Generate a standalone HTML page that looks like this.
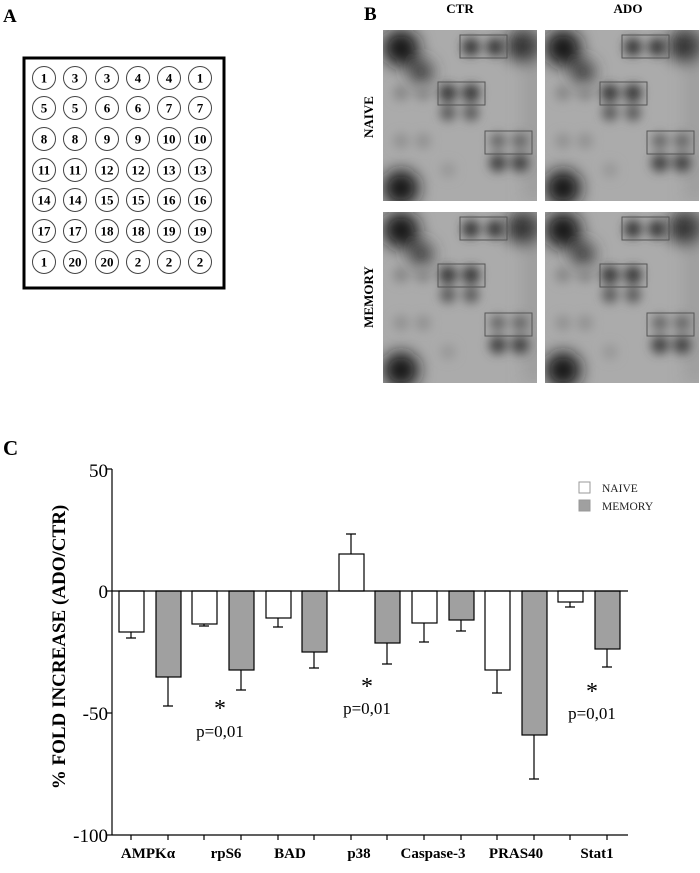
<!DOCTYPE html>
<html><head><meta charset="utf-8"><style>
html,body{margin:0;padding:0;background:#fff;}
svg{display:block;font-family:"Liberation Serif",serif;}
</style></head><body>
<svg width="700" height="873" viewBox="0 0 700 873" xmlns="http://www.w3.org/2000/svg">
<defs>
<filter id="bl" x="-30%" y="-30%" width="160%" height="160%"><feGaussianBlur stdDeviation="8"/></filter>
<filter id="bl2" x="-30%" y="-30%" width="160%" height="160%"><feGaussianBlur stdDeviation="5"/></filter>
<clipPath id="cp"><rect x="0" y="0" width="154" height="171"/></clipPath>
<g id="blotA">
<rect x="0" y="0" width="154" height="171" fill="#ababab"/>
<g clip-path="url(#cp)">
<g filter="url(#bl)" fill="#151515">
<circle cx="18" cy="18" r="18"/><circle cx="38" cy="42" r="12" fill="#3a3a3a"/>
<circle cx="18" cy="158" r="18"/><circle cx="142" cy="16" r="17"/>
<rect x="140" y="0" width="20" height="171" fill="#888" opacity="0.4"/>
</g>
<g filter="url(#bl2)" fill="#3a3a3a">
<circle cx="88" cy="17" r="9"/><circle cx="112" cy="17" r="9"/>
<circle cx="65" cy="63" r="9"/><circle cx="88" cy="63" r="9"/>
<circle cx="65" cy="83" r="8" fill="#5a5a5a"/><circle cx="88" cy="83" r="8" fill="#5a5a5a"/>
<circle cx="115" cy="111" r="8" fill="#666"/><circle cx="137" cy="111" r="8" fill="#666"/>
<circle cx="115" cy="133" r="9" fill="#444"/><circle cx="137" cy="133" r="9" fill="#444"/>
<circle cx="18" cy="63" r="8" fill="#888"/><circle cx="40" cy="63" r="8" fill="#888"/>
<circle cx="18" cy="111" r="8" fill="#929292"/><circle cx="40" cy="111" r="8" fill="#929292"/>
<circle cx="65" cy="140" r="8" fill="#999"/>
</g>
</g>
<g fill="none" stroke="#555" stroke-width="1">
<rect x="77" y="5" width="47" height="23"/>
<rect x="55" y="52" width="47" height="23"/>
<rect x="102" y="101" width="47" height="23"/>
</g>
</g>
</defs>

<!-- Panel A -->
<text x="3" y="22" font-size="19" font-weight="bold">A</text>
<rect x="24" y="58" width="200" height="230" fill="none" stroke="#000" stroke-width="3"/>
<g fill="none" stroke="#444" stroke-width="1">
<circle cx="44" cy="78" r="11.5"/><circle cx="75" cy="78" r="11.5"/><circle cx="107" cy="78" r="11.5"/><circle cx="138" cy="78" r="11.5"/><circle cx="169" cy="78" r="11.5"/><circle cx="200" cy="78" r="11.5"/>
<circle cx="44" cy="108" r="11.5"/><circle cx="75" cy="108" r="11.5"/><circle cx="107" cy="108" r="11.5"/><circle cx="138" cy="108" r="11.5"/><circle cx="169" cy="108" r="11.5"/><circle cx="200" cy="108" r="11.5"/>
<circle cx="44" cy="139" r="11.5"/><circle cx="75" cy="139" r="11.5"/><circle cx="107" cy="139" r="11.5"/><circle cx="138" cy="139" r="11.5"/><circle cx="169" cy="139" r="11.5"/><circle cx="200" cy="139" r="11.5"/>
<circle cx="44" cy="170" r="11.5"/><circle cx="75" cy="170" r="11.5"/><circle cx="107" cy="170" r="11.5"/><circle cx="138" cy="170" r="11.5"/><circle cx="169" cy="170" r="11.5"/><circle cx="200" cy="170" r="11.5"/>
<circle cx="44" cy="200" r="11.5"/><circle cx="75" cy="200" r="11.5"/><circle cx="107" cy="200" r="11.5"/><circle cx="138" cy="200" r="11.5"/><circle cx="169" cy="200" r="11.5"/><circle cx="200" cy="200" r="11.5"/>
<circle cx="44" cy="231" r="11.5"/><circle cx="75" cy="231" r="11.5"/><circle cx="107" cy="231" r="11.5"/><circle cx="138" cy="231" r="11.5"/><circle cx="169" cy="231" r="11.5"/><circle cx="200" cy="231" r="11.5"/>
<circle cx="44" cy="262" r="11.5"/><circle cx="75" cy="262" r="11.5"/><circle cx="107" cy="262" r="11.5"/><circle cx="138" cy="262" r="11.5"/><circle cx="169" cy="262" r="11.5"/><circle cx="200" cy="262" r="11.5"/>
</g>
<g font-size="13" font-weight="bold" text-anchor="middle">
<text x="44" y="82.5">1</text><text x="75" y="82.5">3</text><text x="107" y="82.5">3</text><text x="138" y="82.5">4</text><text x="169" y="82.5">4</text><text x="200" y="82.5">1</text>
<text x="44" y="112.5">5</text><text x="75" y="112.5">5</text><text x="107" y="112.5">6</text><text x="138" y="112.5">6</text><text x="169" y="112.5">7</text><text x="200" y="112.5">7</text>
<text x="44" y="143.5">8</text><text x="75" y="143.5">8</text><text x="107" y="143.5">9</text><text x="138" y="143.5">9</text><text x="169" y="143.5">10</text><text x="200" y="143.5">10</text>
<text x="44" y="174.5">11</text><text x="75" y="174.5">11</text><text x="107" y="174.5">12</text><text x="138" y="174.5">12</text><text x="169" y="174.5">13</text><text x="200" y="174.5">13</text>
<text x="44" y="204.5">14</text><text x="75" y="204.5">14</text><text x="107" y="204.5">15</text><text x="138" y="204.5">15</text><text x="169" y="204.5">16</text><text x="200" y="204.5">16</text>
<text x="44" y="235.5">17</text><text x="75" y="235.5">17</text><text x="107" y="235.5">18</text><text x="138" y="235.5">18</text><text x="169" y="235.5">19</text><text x="200" y="235.5">19</text>
<text x="44" y="266.5">1</text><text x="75" y="266.5">20</text><text x="107" y="266.5">20</text><text x="138" y="266.5">2</text><text x="169" y="266.5">2</text><text x="200" y="266.5">2</text>
</g>

<!-- Panel B -->
<text x="364" y="20" font-size="19" font-weight="bold">B</text>
<text x="460" y="13" font-size="13" font-weight="bold" text-anchor="middle">CTR</text>
<text x="628" y="13" font-size="13" font-weight="bold" text-anchor="middle">ADO</text>
<text transform="translate(373,117) rotate(-90)" font-size="13" font-weight="bold" text-anchor="middle">NAIVE</text>
<text transform="translate(373,297) rotate(-90)" font-size="13" font-weight="bold" text-anchor="middle">MEMORY</text>
<use href="#blotA" x="383" y="30"/>
<use href="#blotA" x="545" y="30"/>
<use href="#blotA" x="383" y="212"/>
<use href="#blotA" x="545" y="212"/>

<!-- Panel C -->
<text x="3" y="455" font-size="21" font-weight="bold">C</text>
<text transform="translate(65,647) rotate(-90)" font-size="19" font-weight="bold" text-anchor="middle">% FOLD INCREASE (ADO/CTR)</text>
<g font-size="19" text-anchor="end">
<text x="108" y="477">50</text><text x="108" y="598">0</text><text x="108" y="720">-50</text><text x="108" y="842">-100</text>
</g>
<g stroke="#000" stroke-width="1.2" fill="none">
<line x1="112" y1="469" x2="112" y2="835"/>
<line x1="107" y1="469" x2="112" y2="469"/>
<line x1="107" y1="591" x2="112" y2="591"/>
<line x1="107" y1="713" x2="112" y2="713"/>
<line x1="107" y1="835" x2="112" y2="835"/>
<line x1="112" y1="835" x2="628" y2="835"/>
<line x1="131" y1="835" x2="131" y2="840"/><line x1="168" y1="835" x2="168" y2="840"/>
<line x1="204" y1="835" x2="204" y2="840"/><line x1="241" y1="835" x2="241" y2="840"/>
<line x1="278" y1="835" x2="278" y2="840"/><line x1="314" y1="835" x2="314" y2="840"/>
<line x1="351" y1="835" x2="351" y2="840"/><line x1="387" y1="835" x2="387" y2="840"/>
<line x1="424" y1="835" x2="424" y2="840"/><line x1="461" y1="835" x2="461" y2="840"/>
<line x1="497" y1="835" x2="497" y2="840"/><line x1="534" y1="835" x2="534" y2="840"/>
<line x1="570" y1="835" x2="570" y2="840"/><line x1="607" y1="835" x2="607" y2="840"/>
</g>
<g stroke="#000" stroke-width="1.2">
<rect x="119" y="591" width="25" height="41" fill="#fff"/>
<rect x="156" y="591" width="25" height="86" fill="#a0a0a0"/>
<rect x="192" y="591" width="25" height="33" fill="#fff"/>
<rect x="229" y="591" width="25" height="79" fill="#a0a0a0"/>
<rect x="266" y="591" width="25" height="27" fill="#fff"/>
<rect x="302" y="591" width="25" height="61" fill="#a0a0a0"/>
<rect x="339" y="554" width="25" height="37" fill="#fff"/>
<rect x="375" y="591" width="25" height="52" fill="#a0a0a0"/>
<rect x="412" y="591" width="25" height="32" fill="#fff"/>
<rect x="449" y="591" width="25" height="29" fill="#a0a0a0"/>
<rect x="485" y="591" width="25" height="79" fill="#fff"/>
<rect x="522" y="591" width="25" height="144" fill="#a0a0a0"/>
<rect x="558" y="591" width="25" height="11" fill="#fff"/>
<rect x="595" y="591" width="25" height="58" fill="#a0a0a0"/>
</g>
<line x1="112" y1="591" x2="628" y2="591" stroke="#000" stroke-width="1.2"/>
<g stroke="#000" stroke-width="1.2" fill="none">
<path d="M131 632V638M126 638H136"/>
<path d="M168 677V706M163 706H173"/>
<path d="M204 624V626M199 626H209"/>
<path d="M241 670V690M236 690H246"/>
<path d="M278 618V627M273 627H283"/>
<path d="M314 652V668M309 668H319"/>
<path d="M351 554V534M346 534H356"/>
<path d="M387 643V664M382 664H392"/>
<path d="M424 623V642M419 642H429"/>
<path d="M461 620V631M456 631H466"/>
<path d="M497 670V693M492 693H502"/>
<path d="M534 735V779M529 779H539"/>
<path d="M570 602V607M565 607H575"/>
<path d="M607 649V667M602 667H612"/>
</g>
<g font-size="24" text-anchor="middle">
<text x="220" y="716">*</text><text x="367" y="694">*</text><text x="592" y="699">*</text>
</g>
<g font-size="17" text-anchor="middle">
<text x="220" y="737">p=0,01</text>
<text x="367" y="714">p=0,01</text>
<text x="592" y="719">p=0,01</text>
</g>
<rect x="579" y="482" width="11" height="11" fill="#fff" stroke="#999" stroke-width="1"/>
<rect x="579" y="500" width="11" height="11" fill="#a0a0a0" stroke="#999" stroke-width="1"/>
<g font-size="11.5" fill="#222">
<text x="602" y="492">NAIVE</text><text x="602" y="510">MEMORY</text>
</g>
<g font-size="15" font-weight="bold" text-anchor="middle">
<text x="148" y="858">AMPKα</text><text x="226" y="858">rpS6</text><text x="290" y="858">BAD</text>
<text x="359" y="858">p38</text><text x="433" y="858">Caspase-3</text><text x="516" y="858">PRAS40</text><text x="597" y="858">Stat1</text>
</g>
</svg>
</body></html>
